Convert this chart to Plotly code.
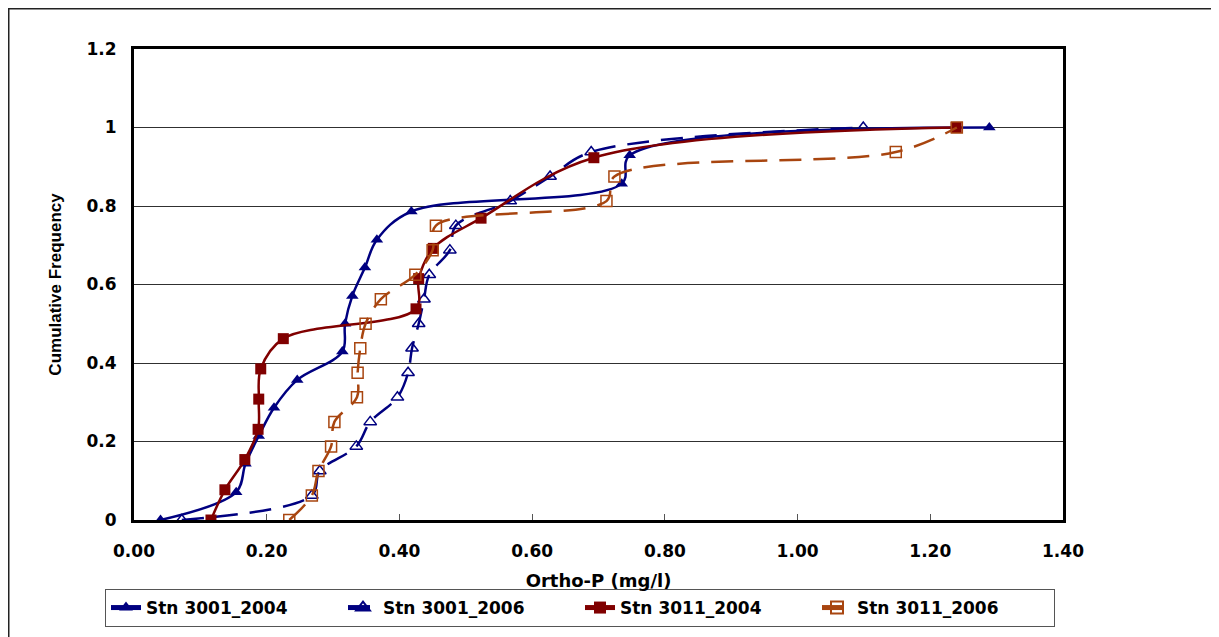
import plotly.graph_objects as go

# ---- data ----
s1_name = "Stn 3001_2004"
s1_x = [0.040, 0.154, 0.168, 0.188, 0.211, 0.246, 0.314, 0.318, 0.329, 0.348, 0.366, 0.418, 0.735, 0.747, 1.289]
s1_y = [0.0, 0.071, 0.143, 0.214, 0.286, 0.357, 0.429, 0.500, 0.571, 0.643, 0.714, 0.786, 0.857, 0.929, 1.0]

s2_name = "Stn 3001_2006"
s2_x = [0.072, 0.268, 0.280, 0.335, 0.356, 0.397, 0.413, 0.419, 0.429, 0.437, 0.445, 0.476, 0.485, 0.567, 0.627, 0.689, 1.099]
s2_y = [0.0, 0.0625, 0.125, 0.1875, 0.25, 0.3125, 0.375, 0.4375, 0.5, 0.5625, 0.625, 0.6875, 0.75, 0.8125, 0.875, 0.9375, 1.0]

s3_name = "Stn 3011_2004"
s3_x = [0.116, 0.137, 0.167, 0.187, 0.188, 0.191, 0.225, 0.425, 0.429, 0.451, 0.523, 0.693, 1.239]
s3_y = [0.0, 0.077, 0.154, 0.231, 0.308, 0.385, 0.462, 0.538, 0.615, 0.692, 0.769, 0.923, 1.0]

s4_name = "Stn 3011_2006"
s4_x = [0.234, 0.268, 0.278, 0.297, 0.302, 0.336, 0.337, 0.341, 0.349, 0.372, 0.424, 0.450, 0.455, 0.712, 0.724, 1.148, 1.240]
s4_y = [0.0, 0.0625, 0.125, 0.1875, 0.25, 0.3125, 0.375, 0.4375, 0.5, 0.5625, 0.625, 0.6875, 0.75, 0.8125, 0.875, 0.9375, 1.0]

x_title = "Ortho-P (mg/l)"
y_title = "Cumulative Frequency"

NAVY = "#000080"
DRED = "#800000"
BROWN = "#A8450F"

fig = go.Figure()
fig.add_trace(go.Scatter(
    x=s1_x, y=s1_y, name=s1_name, mode="lines+markers",
    line=dict(color=NAVY, width=2.5, shape="spline", smoothing=1.0),
    marker=dict(symbol="triangle-up", size=11, color=NAVY)))
fig.add_trace(go.Scatter(
    x=s2_x, y=s2_y, name=s2_name, mode="lines+markers",
    line=dict(color=NAVY, width=2.5, shape="spline", smoothing=1.0, dash="22px,12px"),
    marker=dict(symbol="triangle-up-open", size=11, color=NAVY, line=dict(width=1.5, color=NAVY))))
fig.add_trace(go.Scatter(
    x=s3_x, y=s3_y, name=s3_name, mode="lines+markers",
    line=dict(color=DRED, width=2.5, shape="spline", smoothing=1.0),
    marker=dict(symbol="square", size=11, color=DRED)))
fig.add_trace(go.Scatter(
    x=s4_x, y=s4_y, name=s4_name, mode="lines+markers",
    line=dict(color=BROWN, width=2.5, shape="spline", smoothing=1.0, dash="22px,12px"),
    marker=dict(symbol="square-open", size=11, color=BROWN, line=dict(width=1.5, color=BROWN))))

# page body has an 8px margin: figure pixel = screen pixel - 8
OFF = 8
W, H = 1219 - OFF, 637 - OFF
L, R, T, B = 134 - OFF, 1063 - OFF, 49 - OFF, 520 - OFF
pw, ph = R - L, B - T

def px2paper_x(px):
    return (px - L) / pw

def px2paper_y(py):
    return (B - py) / ph

tick_font = dict(family="DejaVu Sans", size=17, color="black", weight="bold")

fig.update_layout(
    width=W, height=H,
    margin=dict(l=L, r=W - R, t=T, b=H - B, autoexpand=False),
    paper_bgcolor="white", plot_bgcolor="white",
    showlegend=True,
    legend=dict(
        orientation="h", xref="paper", yref="paper",
        x=px2paper_x(105 - OFF), y=px2paper_y(589 - OFF), xanchor="left", yanchor="top",
        bordercolor="#555555", borderwidth=1, bgcolor="white",
        font=dict(family="DejaVu Sans", size=17, color="black", weight="bold"),
        entrywidth=192, entrywidthmode="pixels",
        tracegroupgap=0, itemsizing="constant",
    ),
    xaxis=dict(
        range=[0, 1.4], dtick=0.2, tick0=0, tickformat=".2f",
        showgrid=False, zeroline=False, automargin=False,
        showline=True, linecolor="black", linewidth=3, mirror=True,
        ticks="inside", ticklen=6, tickcolor="#555555", tickwidth=1,
        tickfont=tick_font, ticklabelstandoff=14,
        title=dict(text=x_title, font=dict(family="DejaVu Sans", size=18, color="black", weight="bold"), standoff=14),
    ),
    yaxis=dict(
        range=[0, 1.2], dtick=0.2, tick0=0, automargin=False,
        showgrid=True, gridcolor="#303030", gridwidth=1,
        zeroline=False,
        showline=True, linecolor="black", linewidth=3, mirror=True,
        ticks="inside", ticklen=6, tickcolor="#303030", tickwidth=1,
        tickfont=tick_font, ticklabelstandoff=11,
        title=dict(text=y_title, font=dict(family="Liberation Sans", size=17, color="black", weight="bold"), standoff=21),
    ),
    shapes=[dict(
        type="rect", xref="paper", yref="paper", layer="below",
        x0=px2paper_x(0.75), x1=px2paper_x(1208),
        y0=px2paper_y(640), y1=px2paper_y(0.75),
        line=dict(color="#222222", width=1.5), fillcolor="rgba(0,0,0,0)",
    )],
)

fig.write_html("out.html")
